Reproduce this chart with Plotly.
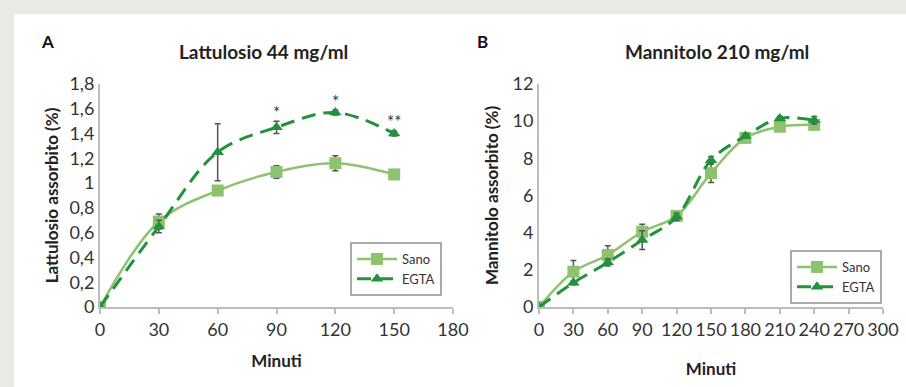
import plotly.graph_objects as go

# Panel A: Lattulosio
minuti_a = [0, 30, 60, 90, 120, 150]
sano_a = [0, 0.69, 0.94, 1.09, 1.16, 1.07]
sano_a_err = [0, 0.06, 0.03, 0.05, 0.06, 0.02]
egta_a = [0, 0.65, 1.25, 1.45, 1.57, 1.40]
egta_a_err = [0, 0.05, 0.23, 0.05, 0.02, 0.02]
stars_a_x = [90, 120, 150]
stars_a_y = [1.57, 1.66, 1.50]
stars_a_txt = ["*", "*", "**"]

# Panel B: Mannitolo
minuti_b = [0, 30, 60, 90, 120, 150, 180, 210, 240]
sano_b = [0, 1.9, 2.8, 4.05, 4.9, 7.2, 9.1, 9.7, 9.8]
sano_b_err = [0, 0.6, 0.5, 0.4, 0.2, 0.5, 0.1, 0.1, 0.1]
egta_b = [0, 1.3, 2.4, 3.6, 4.85, 7.9, 9.2, 10.15, 10.05]
egta_b_err = [0, 0.1, 0.2, 0.5, 0.2, 0.2, 0.1, 0.1, 0.2]

SANO = "#8dc26f"
EGTA = "#23923d"
ERR = "#555555"
FONT = "Lato"

fig = go.Figure()

def add_series(x, y, err, name, color, symbol, dash, xa, ya, legend, size, width):
    fig.add_trace(go.Scatter(
        x=x, y=y, name=name, mode="lines+markers",
        line=dict(color=color, width=width, dash=dash, shape="spline"),
        marker=dict(color=color, symbol=symbol, size=size),
        error_y=dict(type="data", array=err, color=ERR, thickness=1.5, width=3),
        xaxis=xa, yaxis=ya, legend=legend,
    ))

add_series(minuti_a, sano_a, sano_a_err, "Sano", SANO, "square", "solid", "x", "y", "legend", 12, 2.5)
add_series(minuti_a, egta_a, egta_a_err, "EGTA", EGTA, "triangle-up", "14px,8px", "x", "y", "legend", 11, 3)
add_series(minuti_b, sano_b, sano_b_err, "Sano", SANO, "square", "solid", "x2", "y2", "legend2", 12, 2.5)
add_series(minuti_b, egta_b, egta_b_err, "EGTA", EGTA, "triangle-up", "14px,8px", "x2", "y2", "legend2", 11, 3)

for sx, sy, st in zip(stars_a_x, stars_a_y, stars_a_txt):
    fig.add_annotation(x=sx, y=sy, xref="x", yref="y", text=st, showarrow=False,
                       font=dict(family=FONT, size=17, color="#333"))

ydom = [1 - 307 / 387, 1 - 84 / 387]
tfont = dict(family=FONT, size=18, color="#333")
axis_common = dict(showline=True, linecolor="#bdbdbd", linewidth=2, showgrid=False, zeroline=False,
                   tickfont=tfont, automargin=False)
xticks = dict(ticks="outside", tickcolor="#bdbdbd", ticklen=5, tickwidth=1.5)
titlefont = dict(size=17, family=FONT, color="#222")

fig.update_layout(
    width=906, height=387,
    margin=dict(l=0, r=0, t=0, b=0),
    paper_bgcolor="white", plot_bgcolor="white",
    separators=",.",
    font=dict(family=FONT, color="#222"),
    xaxis=dict(domain=[100 / 906, 453 / 906], range=[0, 180], dtick=30, anchor="y",
               title=dict(text="<b>Minuti</b>", font=titlefont, standoff=17),
               **axis_common, **xticks),
    yaxis=dict(domain=ydom, range=[0, 1.8], dtick=0.2, anchor="x",
               title=dict(text="<b>Lattulosio assorbito (%)</b>", font=titlefont, standoff=6),
               **axis_common),
    xaxis2=dict(domain=[539 / 906, 883 / 906], range=[0, 300], dtick=30, anchor="y2",
                title=dict(text="<b>Minuti</b>", font=titlefont, standoff=25),
                **axis_common, **xticks),
    yaxis2=dict(domain=ydom, range=[0, 12], dtick=2, anchor="x2",
                title=dict(text="<b>Mannitolo assorbito (%)</b>", font=titlefont, standoff=10),
                **axis_common),
    legend=dict(x=350 / 906, y=1 - 242 / 387, xanchor="left", yanchor="top",
                bordercolor="#aaaaaa", borderwidth=2, bgcolor="white",
                font=dict(family=FONT, size=13, color="#333"), itemwidth=40),
    legend2=dict(x=790 / 906, y=1 - 250 / 387, xanchor="left", yanchor="top",
                 bordercolor="#aaaaaa", borderwidth=2, bgcolor="white",
                 font=dict(family=FONT, size=13, color="#333"), itemwidth=40),
    showlegend=True,
)

# Panel letters and titles
def paper_text(px, py, text, size, color):
    fig.add_annotation(x=px / 906, y=1 - py / 387, xref="paper", yref="paper", text=text,
                       xanchor="center", yanchor="middle", showarrow=False,
                       font=dict(family=FONT, size=size, color=color))

paper_text(47, 41, "<b>A</b>", 17, "#111")
paper_text(483, 41, "<b>B</b>", 17, "#111")
paper_text(263, 51, "<b>Lattulosio 44 mg/ml</b>", 19, "#222")
paper_text(717, 51, "<b>Mannitolo 210 mg/ml</b>", 19, "#222")

# Light frame on top and left
fig.add_shape(type="rect", xref="paper", yref="paper", x0=0, x1=1, y0=1 - 14 / 387, y1=1,
              fillcolor="#e9eae3", line=dict(width=0), layer="below")
fig.add_shape(type="rect", xref="paper", yref="paper", x0=0, x1=14 / 906, y0=0, y1=1,
              fillcolor="#e9eae3", line=dict(width=0), layer="below")

fig.write_html("out.html", config={"displayModeBar": False},
               post_script="document.body.style.margin='0';")
